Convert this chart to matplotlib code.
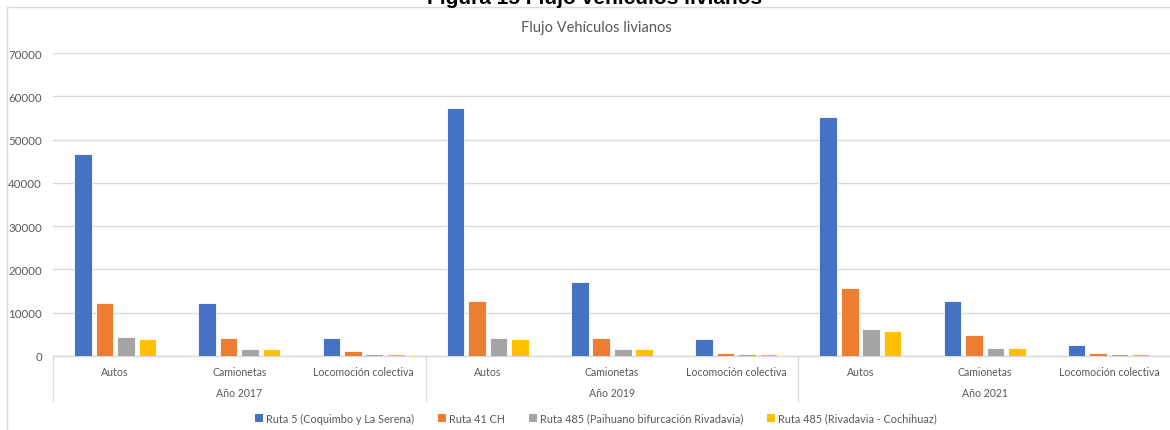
import matplotlib
matplotlib.use("Agg")
import matplotlib.pyplot as plt
from matplotlib.lines import Line2D
from matplotlib.patches import Patch
import numpy as np

years = ["Año 2017", "Año 2019", "Año 2021"]
categories = ["Autos", "Camionetas", "Locomoción colectiva"]
series_names = [
    "Ruta 5 (Coquimbo y La Serena)",
    "Ruta 41 CH",
    "Ruta 485 (Paihuano bifurcación Rivadavia)",
    "Ruta 485 (Rivadavia - Cochihuaz)",
]
# values ordered: 2017 (Autos, Camionetas, Loc), 2019 (...), 2021 (...)
ruta5 = [46700, 12200, 4200, 57300, 17200, 4000, 55300, 12800, 2500]
ruta41 = [12200, 4200, 1200, 12800, 4200, 750, 15800, 4900, 750]
ruta485_pb = [4500, 1600, 450, 4200, 1600, 450, 6300, 1900, 450]
ruta485_rc = [3900, 1600, 400, 4000, 1600, 400, 5800, 1900, 400]
series = [ruta5, ruta41, ruta485_pb, ruta485_rc]
colors = ["#4472C4", "#ED7D31", "#A5A5A5", "#FFC000"]
yticks = [0, 10000, 20000, 30000, 40000, 50000, 60000, 70000]

W, H = 1170, 431
fig = plt.figure(figsize=(W / 100, H / 100), dpi=100)
fig.patch.set_facecolor("white")

def fx(px):
    return px / W

def fy(py):
    return 1 - py / H

left, right, top, bottom = 53, 1171, 54, 357
ax = fig.add_axes([fx(left), fy(bottom), fx(right - left), (bottom - top) / H])
ax.set_xlim(0, 9)
ax.set_ylim(0, 70000)

n = len(series)
slot = 0.173
bw = 0.142
x = np.arange(9) + 0.5
for i, (vals, c, name) in enumerate(zip(series, colors, series_names)):
    offs = (i - (n - 1) / 2) * slot
    ax.bar(x + offs, vals, width=bw, color=c, edgecolor="white", linewidth=0.6, zorder=3, label=name)

ax.set_yticks(yticks)
ax.set_yticklabels([str(v) for v in yticks], fontsize=8.3, color="#595959", family="Lato")
ax.tick_params(axis="y", length=0, pad=8)
ax.tick_params(axis="x", length=0, labelbottom=False)
ax.grid(axis="y", color="#D9D9D9", linewidth=1.0, zorder=0)
for s in ["top", "right", "left"]:
    ax.spines[s].set_visible(False)
ax.spines["bottom"].set_color("#D9D9D9")
ax.spines["bottom"].set_linewidth(1.0)

trans = ax.get_xaxis_transform()
ylow = -(402 - 357) / (bottom - top)
for d in [0, 3, 6, 9]:
    ax.plot([d, d], [0, ylow], transform=trans, color="#D9D9D9", linewidth=1.0, clip_on=False)

cat_y = -(373 - 357) / (bottom - top)
grp_y = -(394 - 357) / (bottom - top)
for g in range(3):
    for k, cat in enumerate(categories):
        ax.text(g * 3 + k + 0.5, cat_y, cat, transform=trans, ha="center", va="center",
                fontsize=7.6, color="#595959", family="Lato")
    ax.text(g * 3 + 1.5, grp_y, years[g], transform=trans, ha="center", va="center",
            fontsize=7.6, color="#595959", family="Lato")

# chart title
fig.text(fx(596), fy(28), "Flujo Vehículos livianos", ha="center", va="center",
         fontsize=10.5, color="#595959", family="Lato")

# figure heading (cut off at top, as in the source)
fig.text(fx(595), fy(4), "Figura 15 Flujo vehículos livianos", ha="center", va="baseline",
         fontsize=15, fontweight="bold", color="black", family="Liberation Sans")

# chart border
fig.add_artist(Line2D([fx(7), fx(7)], [fy(8), 0], color="#D9D9D9", linewidth=1.0))
fig.add_artist(Line2D([fx(7), 1], [fy(8), fy(8)], color="#D9D9D9", linewidth=1.0))

handles = [Patch(facecolor=c, edgecolor="none") for c in colors]
leg = fig.legend(handles, series_names, loc="center", bbox_to_anchor=(fx(596), fy(419)),
                 ncol=4, frameon=False, handlelength=0.7, handleheight=0.7,
                 handletextpad=0.3, columnspacing=2.2, prop={"family": "Lato", "size": 7.8})
for t in leg.get_texts():
    t.set_color("#595959")

fig.savefig("out.png", dpi=100, facecolor="white")
